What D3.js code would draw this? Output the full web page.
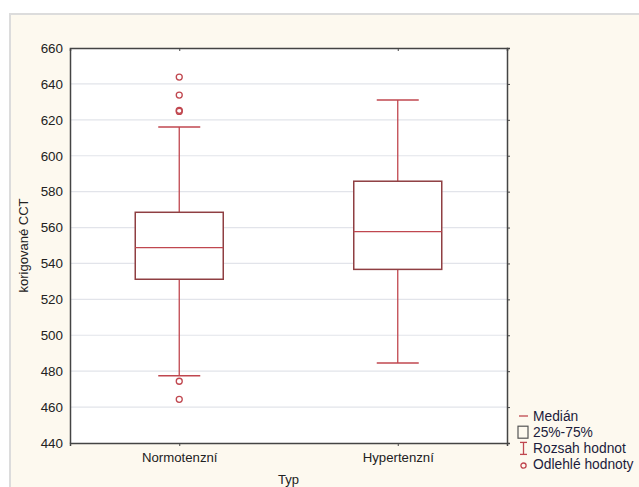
<!DOCTYPE html>
<html>
<head>
<meta charset="utf-8">
<script src="https://cdn.jsdelivr.net/npm/d3@7"></script>
<style>
  body { margin: 0; background: #fff; }
  #chart { width: 639px; height: 487px; }
  text { font-family: "Liberation Sans", Arial, sans-serif; }
</style>
</head>
<body>
<div id="chart"></div>
<script>
// data
const categories = ["Normotenzní", "Hypertenzní"];
const whiskerLow = [477.5, 484.5];
const q1 = [531.2, 536.7];
const median = [548.8, 557.7];
const q3 = [568.5, 585.8];
const whiskerHigh = [616, 631];
const outliers = [
  [643.8, 633.8, 625.3, 624.7, 474.4, 464.3],
  []
];
const yTicks = [440, 460, 480, 500, 520, 540, 560, 580, 600, 620, 640, 660];
const legendItems = ["Medián", "25%-75%", "Rozsah hodnot", "Odlehlé hodnoty"];

const W = 639, H = 487;
const margin = {top: 48, right: 132, bottom: 44, left: 70};
const width = W - margin.left - margin.right;
const height = H - margin.top - margin.bottom;

const svg = d3.select("#chart").append("svg")
  .attr("width", W)
  .attr("height", H);

// cream panel with a soft shadow edge
svg.append("rect").attr("x", 9).attr("y", 13).attr("width", W - 9).attr("height", H - 13)
  .attr("fill", "#dcdcdc");
svg.append("rect").attr("x", 11).attr("y", 15).attr("width", W - 11).attr("height", H - 15)
  .attr("fill", "#fdf9ef");

const g = svg.append("g").attr("transform", `translate(${margin.left},${margin.top})`);

const x = d3.scalePoint().domain(categories).range([0, width]).padding(0.5);
const y = d3.scaleLinear().domain([440, 660]).range([height, 0]);

g.append("rect").attr("width", width).attr("height", height).attr("fill", "#fff");

// grid
g.append("g").selectAll("line").data(yTicks.slice(1, -1)).enter().append("line")
  .attr("x1", 0).attr("x2", width)
  .attr("y1", d => y(d)).attr("y2", d => y(d))
  .attr("stroke", "#e2e4ea").attr("stroke-width", 1.2);

// axes
const axisColor = "#444";
const yAxis = g.append("g").call(d3.axisLeft(y).tickValues(yTicks).tickSize(0).tickPadding(7));
const yAxisR = g.append("g").attr("transform", `translate(${width},0)`)
  .call(d3.axisRight(y).tickValues(yTicks).tickSize(3).tickFormat(""));
const xAxis = g.append("g").attr("transform", `translate(0,${height})`)
  .call(d3.axisBottom(x).tickSize(3).tickPadding(7));
const xAxisT = g.append("g").call(d3.axisTop(x).tickSize(-3).tickFormat(""));
[yAxis, yAxisR, xAxis, xAxisT].forEach(a => {
  a.select(".domain").attr("stroke", axisColor).attr("stroke-width", 1.5);
  a.selectAll(".tick line").attr("stroke", axisColor);
  a.selectAll("text").attr("fill", "#222").style("font-size", "13.4px");
});
xAxis.selectAll("text").style("font-size", "13.2px");

// axis titles
svg.append("text")
  .attr("transform", `translate(28,${margin.top + height / 2}) rotate(-90)`)
  .attr("text-anchor", "middle")
  .attr("fill", "#222").style("font-size", "13px")
  .text("korigované CCT");
svg.append("text")
  .attr("x", margin.left + width / 2).attr("y", 484)
  .attr("text-anchor", "middle")
  .attr("fill", "#222").style("font-size", "13px")
  .text("Typ");

// boxes
const red = "#c0474f";
const boxEdge = "#8f3f42";
const boxW = 88, capW = 42;
const boxes = g.append("g").selectAll("g").data(categories).enter().append("g");

boxes.append("line")
  .attr("x1", d => x(d)).attr("x2", d => x(d))
  .attr("y1", (d, i) => y(whiskerHigh[i])).attr("y2", (d, i) => y(q3[i]))
  .attr("stroke", red).attr("stroke-width", 1.3);
boxes.append("line")
  .attr("x1", d => x(d)).attr("x2", d => x(d))
  .attr("y1", (d, i) => y(q1[i])).attr("y2", (d, i) => y(whiskerLow[i]))
  .attr("stroke", red).attr("stroke-width", 1.3);
boxes.append("line")
  .attr("x1", d => x(d) - capW / 2).attr("x2", d => x(d) + capW / 2)
  .attr("y1", (d, i) => y(whiskerHigh[i])).attr("y2", (d, i) => y(whiskerHigh[i]))
  .attr("stroke", red).attr("stroke-width", 1.5);
boxes.append("line")
  .attr("x1", d => x(d) - capW / 2).attr("x2", d => x(d) + capW / 2)
  .attr("y1", (d, i) => y(whiskerLow[i])).attr("y2", (d, i) => y(whiskerLow[i]))
  .attr("stroke", red).attr("stroke-width", 1.5);
boxes.append("rect")
  .attr("x", d => x(d) - boxW / 2).attr("width", boxW)
  .attr("y", (d, i) => y(q3[i])).attr("height", (d, i) => y(q1[i]) - y(q3[i]))
  .attr("fill", "#fff").attr("stroke", boxEdge).attr("stroke-width", 1.5);
boxes.append("line")
  .attr("x1", d => x(d) - boxW / 2).attr("x2", d => x(d) + boxW / 2)
  .attr("y1", (d, i) => y(median[i])).attr("y2", (d, i) => y(median[i]))
  .attr("stroke", red).attr("stroke-width", 1.3);

boxes.each(function(d, i) {
  d3.select(this).selectAll("circle").data(outliers[i]).enter().append("circle")
    .attr("cx", x(d)).attr("cy", v => y(v)).attr("r", 3)
    .attr("fill", "none").attr("stroke", red).attr("stroke-width", 1.3);
});

// legend
const lg = svg.append("g").attr("transform", "translate(517,416)");
const rowH = 16.2;
const rows = lg.selectAll("g").data(legendItems).enter().append("g")
  .attr("transform", (d, i) => `translate(0,${i * rowH})`);
rows.append("text").attr("x", 16).attr("y", 0).attr("dy", "0.35em")
  .attr("fill", "#1c1c3c").style("font-size", "13.8px").text(d => d);
// icons
d3.select(rows.nodes()[0]).append("line")
  .attr("x1", 2).attr("x2", 11).attr("y1", 0).attr("y2", 0)
  .attr("stroke", red).attr("stroke-width", 1.3);
d3.select(rows.nodes()[1]).append("rect")
  .attr("x", 1).attr("y", -6).attr("width", 10).attr("height", 12)
  .attr("fill", "none").attr("stroke", "#555").attr("stroke-width", 1.2);
const rz = d3.select(rows.nodes()[2]);
rz.append("line").attr("x1", 3).attr("x2", 10).attr("y1", -6).attr("y2", -6).attr("stroke", red).attr("stroke-width", 1.3);
rz.append("line").attr("x1", 3).attr("x2", 10).attr("y1", 6).attr("y2", 6).attr("stroke", red).attr("stroke-width", 1.3);
rz.append("line").attr("x1", 6.5).attr("x2", 6.5).attr("y1", -6).attr("y2", 6).attr("stroke", red).attr("stroke-width", 1.3);
d3.select(rows.nodes()[3]).append("circle")
  .attr("cx", 6.5).attr("cy", 1).attr("r", 2.6)
  .attr("fill", "none").attr("stroke", red).attr("stroke-width", 1.3);
</script>
</body>
</html>
